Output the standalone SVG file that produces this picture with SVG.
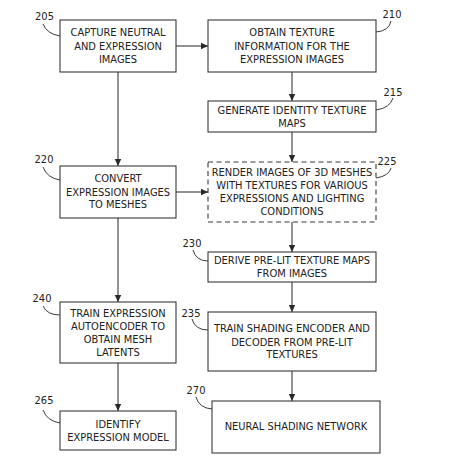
<svg xmlns="http://www.w3.org/2000/svg" width="457" height="471" viewBox="0 0 457 471">
<style>
.box{fill:#fff;stroke:#3a3a3a;stroke-width:1.1}
.dash{stroke-dasharray:5,3.5}
.t{font-family:"DejaVu Sans Condensed","DejaVu Sans",sans-serif;font-stretch:condensed;font-size:11px;fill:#222;text-anchor:middle}
.lbl{font-family:"DejaVu Sans Condensed","DejaVu Sans",sans-serif;font-stretch:condensed;font-size:11px;fill:#222;text-anchor:middle}
.con{stroke:#3a3a3a;stroke-width:1.1;fill:none}
.lead{stroke:#3a3a3a;stroke-width:1;fill:none}
</style>
<defs>
<marker id="ah" markerWidth="8" markerHeight="8" refX="7" refY="4" orient="auto" markerUnits="userSpaceOnUse">
<path d="M0,0.8 L7,4 L0,7.2 Z" fill="#2a2a2a"/>
</marker>
</defs>
<rect width="457" height="471" fill="#fff"/>
<g id="connectors">
<line class="con" x1="176" y1="46" x2="208" y2="46" marker-end="url(#ah)"/>
<line class="con" x1="118" y1="72" x2="118" y2="166" marker-end="url(#ah)"/>
<line class="con" x1="292" y1="72" x2="292" y2="101" marker-end="url(#ah)"/>
<line class="con" x1="292" y1="132" x2="292" y2="162" marker-end="url(#ah)"/>
<line class="con" x1="176" y1="192" x2="208" y2="192" marker-end="url(#ah)"/>
<line class="con" x1="292" y1="222" x2="292" y2="252" marker-end="url(#ah)"/>
<line class="con" x1="292" y1="282" x2="292" y2="312" marker-end="url(#ah)"/>
<line class="con" x1="118" y1="218" x2="118" y2="302" marker-end="url(#ah)"/>
<line class="con" x1="118" y1="363" x2="118" y2="411" marker-end="url(#ah)"/>
<line class="con" x1="292" y1="371" x2="292" y2="401" marker-end="url(#ah)"/>
</g>
<g id="n205">
<rect class="box" x="60" y="20" width="116" height="52"/>
<text class="t" x="118" y="36.3">CAPTURE NEUTRAL</text>
<text class="t" x="118" y="49.5">AND EXPRESSION</text>
<text class="t" x="118" y="62.5">IMAGES</text>
<text class="lbl" x="44.5" y="19.5">205</text>
<path class="lead" d="M43,24 Q47,34 60,36"/>
</g>
<g id="n210">
<rect class="box" x="208" y="20" width="168" height="52"/>
<text class="t" x="292" y="36.3">OBTAIN TEXTURE</text>
<text class="t" x="292" y="49.5">INFORMATION FOR THE</text>
<text class="t" x="292" y="62.5">EXPRESSION IMAGES</text>
<text class="lbl" x="392" y="18">210</text>
<path class="lead" d="M376,32 Q389,31 391,21"/>
</g>
<g id="n215">
<rect class="box" x="208" y="101" width="168" height="31"/>
<text class="t" x="292" y="113.7">GENERATE IDENTITY TEXTURE</text>
<text class="t" x="292" y="126.5">MAPS</text>
<text class="lbl" x="393" y="95.5">215</text>
<path class="lead" d="M376,110 Q390,108 393,98"/>
</g>
<g id="n220">
<rect class="box" x="60" y="166" width="116" height="52"/>
<text class="t" x="118" y="182.3">CONVERT</text>
<text class="t" x="118" y="195.5">EXPRESSION IMAGES</text>
<text class="t" x="118" y="208.3">TO MESHES</text>
<text class="lbl" x="44" y="163">220</text>
<path class="lead" d="M43,167 Q47,178 60,180"/>
</g>
<g id="n225">
<rect class="box dash" x="208" y="162" width="168" height="60"/>
<text class="t" x="292" y="176.3">RENDER IMAGES OF 3D MESHES</text>
<text class="t" x="292" y="189">WITH TEXTURES FOR VARIOUS</text>
<text class="t" x="292" y="201.7">EXPRESSIONS AND LIGHTING</text>
<text class="t" x="292" y="214.5">CONDITIONS</text>
<text class="lbl" x="387" y="165">225</text>
<path class="lead" d="M376,178 Q389,176 391,168"/>
</g>
<g id="n230">
<rect class="box" x="208" y="252" width="168" height="30"/>
<text class="t" x="292" y="264">DERIVE PRE-LIT TEXTURE MAPS</text>
<text class="t" x="292" y="277.3">FROM IMAGES</text>
<text class="lbl" x="192" y="247">230</text>
<path class="lead" d="M193,250 Q196,261 208,261"/>
</g>
<g id="n240">
<rect class="box" x="60" y="302" width="116" height="61"/>
<text class="t" x="118" y="317.3">TRAIN EXPRESSION</text>
<text class="t" x="118" y="330">AUTOENCODER TO</text>
<text class="t" x="118" y="343.3">OBTAIN MESH</text>
<text class="t" x="118" y="356">LATENTS</text>
<text class="lbl" x="42" y="302">240</text>
<path class="lead" d="M43,306 Q47,315 60,315"/>
</g>
<g id="n235">
<rect class="box" x="208" y="312" width="168" height="59"/>
<text class="t" x="292" y="332.3">TRAIN SHADING ENCODER AND</text>
<text class="t" x="292" y="345.7">DECODER FROM PRE-LIT</text>
<text class="t" x="292" y="358.3">TEXTURES</text>
<text class="lbl" x="191" y="317">235</text>
<path class="lead" d="M192,319 Q195,330 208,330"/>
</g>
<g id="n265">
<rect class="box" x="60" y="411" width="116" height="39"/>
<text class="t" x="118" y="428.3">IDENTIFY</text>
<text class="t" x="118" y="440.7">EXPRESSION MODEL</text>
<text class="lbl" x="44" y="404">265</text>
<path class="lead" d="M43,410 Q47,421 60,423"/>
</g>
<g id="n270">
<rect class="box" x="212" y="401" width="168" height="52"/>
<text class="t" x="296" y="430">NEURAL SHADING NETWORK</text>
<text class="lbl" x="196" y="394">270</text>
<path class="lead" d="M196,397 Q199,408 212,409"/>
</g>
</svg>
